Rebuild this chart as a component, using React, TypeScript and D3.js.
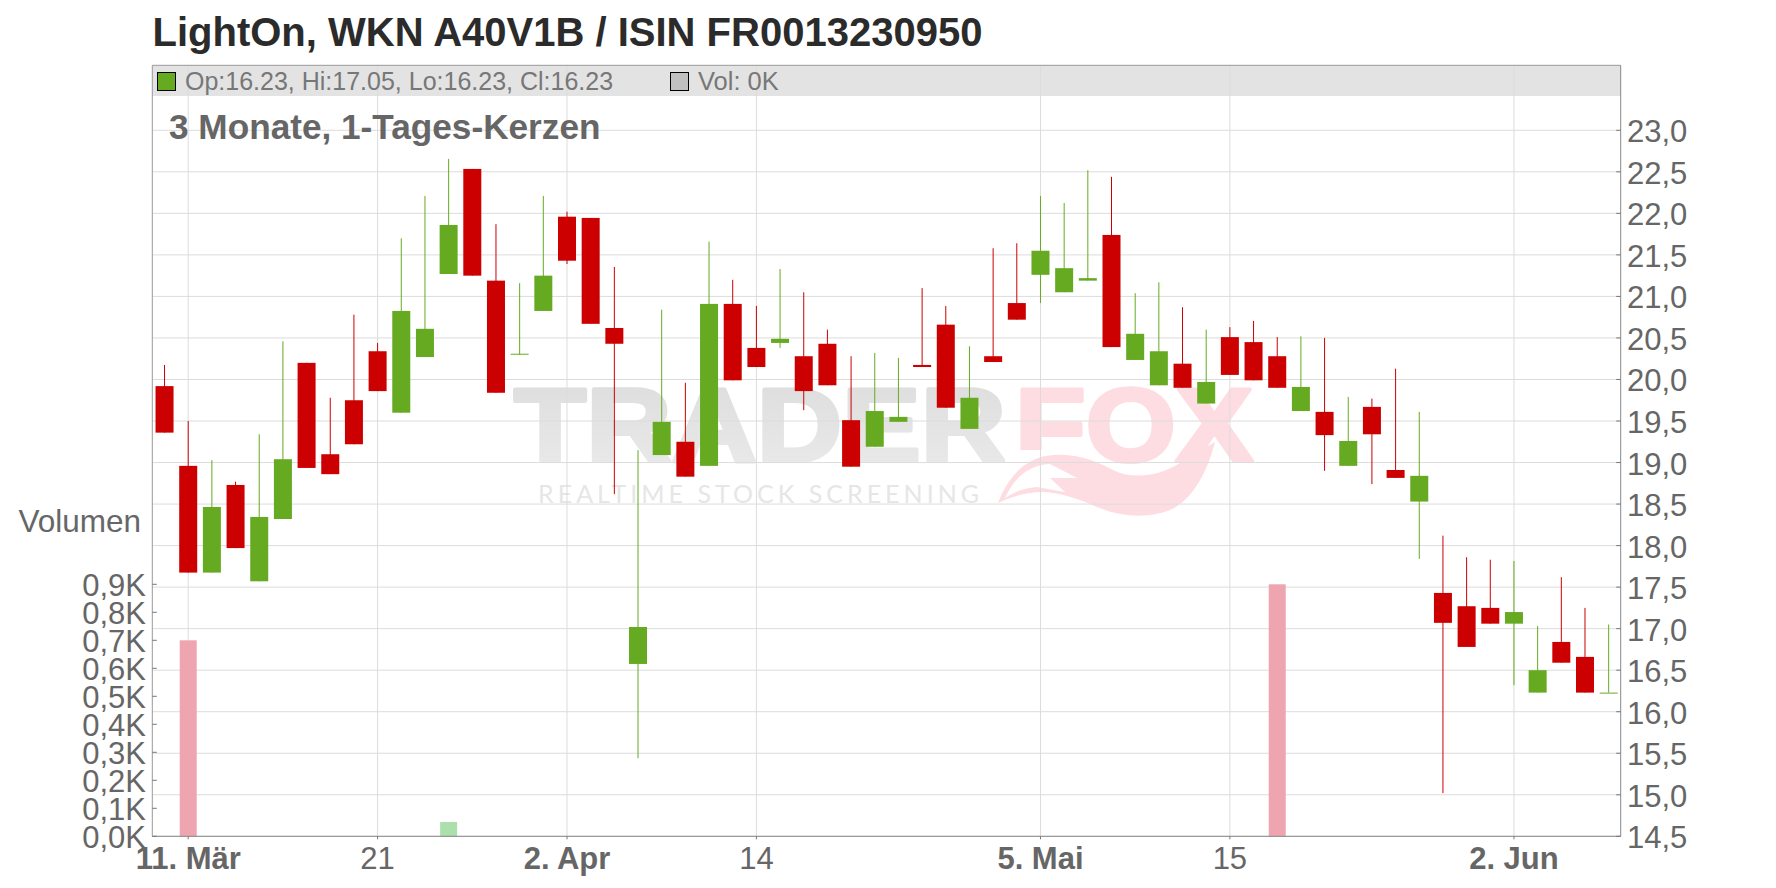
import * as React from "react"
import * as d3 from "d3"

// OHLC, one entry per trading day
const opens = [19.92, 18.96, 17.675, 18.73, 17.57, 18.32, 20.2, 19.1, 19.75, 20.34, 19.6, 20.27, 21.27, 22.535, 21.19, 20.3, 20.825, 21.96, 21.945, 20.62, 16.575, 19.09, 19.25, 18.96, 20.91, 20.38, 20.44, 20.28, 20.43, 19.51, 19.19, 19.49, 20.175, 20.66, 19.405, 20.28, 20.92, 21.26, 21.05, 21.19, 21.74, 20.235, 19.93, 20.19, 19.71, 20.51, 20.45, 20.28, 19.62, 19.61, 18.96, 19.67, 18.91, 18.53, 17.43, 17.27, 17.25, 17.06, 16.23, 16.84, 16.66, 16.23]
const highs = [20.175, 19.5, 19.03, 18.77, 19.34, 20.46, 20.2, 19.78, 20.78, 20.44, 21.7, 22.21, 22.655, 22.535, 21.87, 21.16, 22.21, 22.02, 21.945, 21.355, 19.15, 20.84, 19.96, 21.66, 21.2, 20.885, 21.33, 21.05, 20.6, 20.28, 20.32, 20.26, 21.1, 20.885, 20.4, 21.58, 21.64, 22.21, 22.125, 22.52, 22.44, 21.04, 21.17, 20.87, 20.6, 20.63, 20.705, 20.51, 20.52, 20.5, 19.79, 19.77, 20.13, 19.61, 18.12, 17.86, 17.83, 17.815, 17.03, 17.62, 17.25, 17.05]
const lows = [19.36, 17.675, 17.675, 17.97, 17.57, 18.32, 18.935, 18.86, 19.22, 19.86, 19.6, 20.27, 21.27, 21.25, 19.84, 20.3, 20.825, 21.39, 20.67, 18.62, 15.44, 19.09, 18.83, 18.96, 19.99, 20.15, 20.38, 19.63, 19.93, 18.95, 19.19, 19.49, 20.15, 19.66, 19.405, 20.21, 20.72, 20.92, 21.05, 21.19, 20.39, 20.235, 19.93, 19.9, 19.71, 20.055, 19.99, 19.9, 19.62, 18.9, 18.96, 18.74, 18.815, 17.84, 15.02, 16.78, 17.06, 16.32, 16.23, 16.59, 16.23, 16.23]
const closes = [19.36, 17.675, 18.465, 17.97, 18.345, 19.04, 18.935, 18.86, 19.22, 19.86, 20.825, 20.61, 21.86, 21.25, 19.84, 20.31, 21.25, 21.43, 20.67, 20.43, 17.02, 19.49, 18.83, 20.91, 19.99, 20.15, 20.49, 19.86, 19.93, 18.95, 19.62, 19.55, 20.15, 19.66, 19.78, 20.21, 20.72, 21.55, 21.34, 21.22, 20.39, 20.55, 20.34, 19.9, 19.97, 20.055, 19.99, 19.9, 19.91, 19.33, 19.26, 19.34, 18.815, 18.84, 17.07, 16.78, 17.06, 17.2, 16.5, 16.59, 16.23, 16.23]

// volume in thousands, only three days traded
const volumeDays = [1, 12, 47]
const volumeValues = [0.7, 0.051, 0.9]

const priceTicks = [14.5, 15, 15.5, 16, 16.5, 17, 17.5, 18, 18.5, 19, 19.5, 20, 20.5, 21, 21.5, 22, 22.5, 23]
const volumeTicks = [0, 0.1, 0.2, 0.3, 0.4, 0.5, 0.6, 0.7, 0.8, 0.9]
const dateTickDays = [1, 9, 17, 25, 37, 45, 57]
const dateTickLabels = ["11. Mär", "21", "2. Apr", "14", "5. Mai", "15", "2. Jun"]
const dateTickBold = [true, false, true, false, true, false, true]

const W = 1776
const H = 888
const left = 152.3
const right = 1620.7
const top = 65.3
const bottom = 836.3

const RED = "#cc0000"
const GREEN = "#66aa22"
const GRID = "#dcdcdc"
const LABEL = "#666666"
const FONT = "'Liberation Sans', Arial, sans-serif"

const comma = (v: number) => v.toFixed(1).replace(".", ",")

export default function App() {
    const x = d3.scaleBand<number>().domain(d3.range(opens.length)).range([152.7, 1620.5])
    const cx = (i: number) => (x(i) as number) + x.bandwidth() / 2
    const y = d3.scaleLinear().domain([14.5, 23]).range([bottom, 130.3])
    const yVol = d3.scaleLinear().domain([0, 0.9]).range([bottom, 584.3])
    const bodyW = 18
    const volW = 17

    return (
        <svg
            width={W}
            height={H}
            viewBox={`0 0 ${W} ${H}`}
            style={{ position: "absolute", left: 0, top: 0, display: "block", background: "#fff" }}
            fontFamily={FONT}
        >
            <defs>
                <linearGradient id="wm-grey" x1="0" x2="0" y1="0" y2="1">
                    <stop offset="0%" stopColor="#dcdcdc" />
                    <stop offset="100%" stopColor="#ebebeb" />
                </linearGradient>
            </defs>

            <text x={152.5} y={46} fontSize={40} fontWeight="bold" fill="#2b2b2b">
                LightOn, WKN A40V1B / ISIN FR0013230950
            </text>

            {/* legend band */}
            <rect x={left} y={top} width={right - left} height={96 - top} fill="#e3e3e3" />

            {/* watermark */}
            <g>
                <text x={514} y={461} fontSize={104} fontWeight="bold" fill="url(#wm-grey)" stroke="url(#wm-grey)" strokeWidth={4} strokeLinejoin="round" textLength={492} lengthAdjust="spacingAndGlyphs">
                    TRADER
                </text>
                <text x={1015} y={461} fontSize={104} fontWeight="bold" fill="#fddde2" stroke="#fddde2" strokeWidth={4} strokeLinejoin="round" textLength={238} lengthAdjust="spacingAndGlyphs">
                    FOX
                </text>
                <path fill="#ffffff" d="M1005,450 L1062,450 L1062,472 L1005,492 Z" />
                <path
                    fill="#fddde2"
                    fillRule="evenodd"
                    d="M998,503 C1007,480 1023,457 1053,455 C1080,453 1100,463 1113,470 C1133,480 1163,477 1187,458 L1215,442 C1208,470 1193,500 1170,510 C1150,518 1123,518 1097,507 C1077,498 1060,493 1043,492 C1023,492 1010,498 998,503 Z M1005,498 C1013,480 1027,465 1050,464 L1077,478 L1050,478 L1065,492 L1037,487 C1023,488 1013,493 1005,498 Z"
                />
                <text x={538} y={503} fontSize={25} fontFamily="Lato, sans-serif" fill="#e6e6e6" textLength={441} lengthAdjust="spacing">
                    REALTIME STOCK SCREENING
                </text>
            </g>

            {/* grid */}
            {priceTicks.map(t => (
                <line key={t} x1={left} x2={right} y1={y(t)} y2={y(t)} stroke={GRID} strokeWidth={1} />
            ))}
            {dateTickDays.map(d => (
                <line key={d} x1={cx(d)} x2={cx(d)} y1={top} y2={bottom} stroke={GRID} strokeWidth={1} />
            ))}

            {/* volume */}
            {volumeDays.map((d, i) => (
                <rect
                    key={d}
                    x={cx(d) - volW / 2}
                    y={yVol(volumeValues[i])}
                    width={volW}
                    height={bottom - yVol(volumeValues[i])}
                    fill={closes[d] < opens[d] ? "#efa5b0" : "#abdfab"}
                />
            ))}

            {/* candles */}
            {opens.map((o, i) => {
                const c = closes[i]
                const color = c < o ? RED : GREEN
                const bodyTop = y(Math.max(o, c))
                const h = Math.max(y(Math.min(o, c)) - bodyTop, 1)
                return (
                    <g key={i}>
                        <line x1={cx(i)} x2={cx(i)} y1={y(highs[i])} y2={y(lows[i])} stroke={color} strokeWidth={1} />
                        <rect x={cx(i) - bodyW / 2} y={bodyTop} width={bodyW} height={h} fill={color} />
                    </g>
                )
            })}

            {/* frame */}
            <path d={`M${left},${bottom} V${top} H${right}`} fill="none" stroke="#999" strokeWidth={1} />
            <line x1={right} x2={right} y1={top} y2={bottom} stroke="#888" strokeWidth={1} />
            <line x1={left} x2={right} y1={bottom} y2={bottom} stroke="#888" strokeWidth={1} />

            {/* right axis */}
            {priceTicks.map(t => (
                <g key={t}>
                    <line x1={right - 4.5} x2={right} y1={y(t)} y2={y(t)} stroke="#777" />
                    <text x={1627} y={y(t) + 12} fontSize={31} fill={LABEL}>{comma(t)}</text>
                </g>
            ))}

            {/* left axis */}
            {volumeTicks.map(t => (
                <g key={t}>
                    <line x1={left} x2={left + 4.5} y1={yVol(t)} y2={yVol(t)} stroke="#777" />
                    <text x={146} y={yVol(t) + 11.5} fontSize={31} fill={LABEL} textAnchor="end">{comma(t) + "K"}</text>
                </g>
            ))}
            <text x={18.5} y={531.5} fontSize={31.5} fill={LABEL}>Volumen</text>

            {/* date axis */}
            {dateTickDays.map((d, i) => (
                <g key={d}>
                    <line x1={cx(d)} x2={cx(d)} y1={bottom} y2={bottom + 3} stroke="#777" />
                    <text x={cx(d)} y={869} fontSize={31} textAnchor="middle" fill={LABEL} fontWeight={dateTickBold[i] ? "bold" : "normal"}>
                        {dateTickLabels[i]}
                    </text>
                </g>
            ))}

            {/* legend */}
            <rect x={157.5} y={72.5} width={18} height={18} fill={GREEN} stroke="#000" strokeWidth={1} />
            <text x={185} y={90} fontSize={25} fill="#777">Op:16.23, Hi:17.05, Lo:16.23, Cl:16.23</text>
            <rect x={670.5} y={72.5} width={18} height={18} fill="#c0c0c0" stroke="#000" strokeWidth={1} />
            <text x={698} y={90} fontSize={25.5} fill="#777">Vol: 0K</text>

            <text x={169} y={139} fontSize={35.2} fontWeight="bold" fill={LABEL}>3 Monate, 1-Tages-Kerzen</text>
        </svg>
    )
}
